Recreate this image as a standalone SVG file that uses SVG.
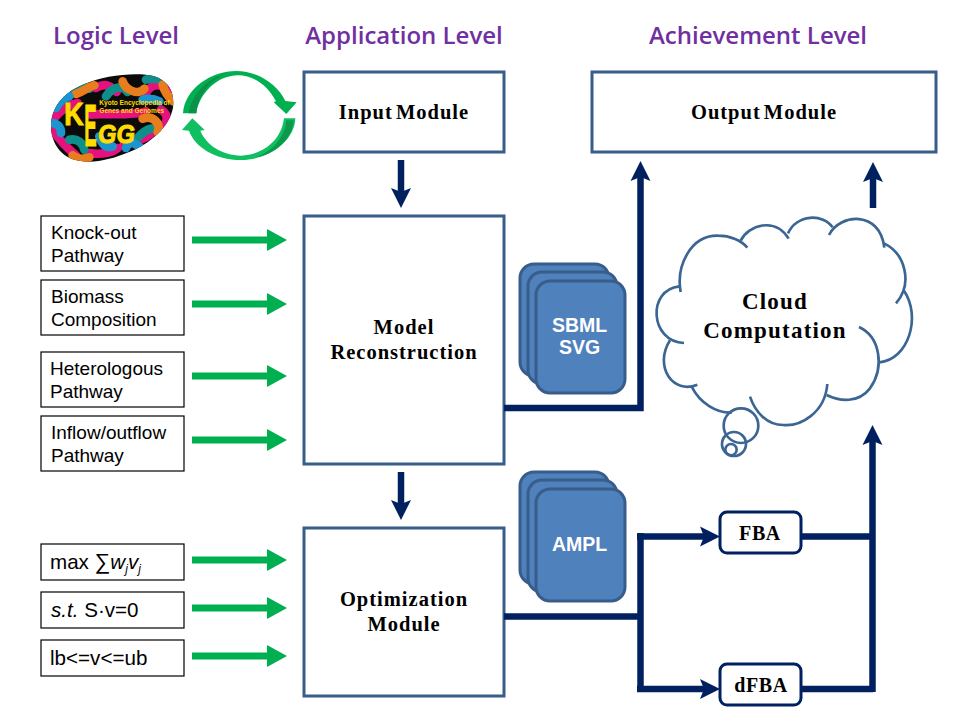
<svg xmlns="http://www.w3.org/2000/svg" width="960" height="720" viewBox="0 0 960 720">
<style>
.title{font:600 24px "Open Sans","Liberation Sans",sans-serif;fill:#7030a0;text-anchor:middle}
.mod{fill:#fff;stroke:#385d8a;stroke-width:3}
.st{font:bold 20.5px "Liberation Serif",serif;fill:#000;text-anchor:middle;letter-spacing:1px;word-spacing:-3px}
.fb{font:bold 20px "Liberation Serif",serif;fill:#000;text-anchor:middle;letter-spacing:.6px}
.cc{font:bold 23px "Liberation Serif",serif;fill:#000;text-anchor:middle;letter-spacing:1.2px}
.input{fill:#fff;stroke:#000;stroke-width:1.2}
.lt{font:19px "Liberation Sans",Arial,sans-serif;fill:#000}
.lm{font:20.6px "Liberation Sans",Arial,sans-serif;fill:#000}
.doc{fill:#4f81bd;stroke:#385d8a;stroke-width:3}
.dt{font:bold 19.5px "Liberation Sans",Arial,sans-serif;fill:#fff;text-anchor:middle}
.g{stroke:#00b050;stroke-width:7;fill:none}
.n{stroke:#002060;stroke-width:6.500;fill:none}
.cl{fill:none;stroke:#3b6593;stroke-width:8;stroke-linecap:butt}
.sub{font-size:12px;font-style:italic}
.egg{fill:none;stroke-width:26;stroke-linecap:round}
.ky{font:bold 19.6px "Liberation Sans",sans-serif;fill:#ffdc00}
.kl{font-family:"Liberation Sans",sans-serif;font-weight:bold;fill:#ffdc00}
</style>
<defs>
<marker id="gh" markerUnits="userSpaceOnUse" markerWidth="20" markerHeight="22" refX="1" refY="11" orient="auto"><path d="M0 0L20 11L0 22Z" fill="#00b050"/></marker>
<marker id="nh" markerUnits="userSpaceOnUse" markerWidth="20" markerHeight="22" refX="4" refY="11" orient="auto"><path d="M0 1L20 11L0 21L4 11Z" fill="#002060"/></marker>
<clipPath id="eggc"><path d="M15 175C15 120 50 75 110 50C170 25 240 15 300 20C355 25 385 60 382 110C378 165 325 220 255 250C190 278 130 290 80 274C40 260 15 220 15 175Z"/></clipPath>
</defs>
<g id="titles">
<text class="title" x="116" y="44">Logic Level</text>
<text class="title" x="404" y="44">Application Level</text>
<text class="title" x="758" y="44">Achievement Level</text>
</g>
<g id="kegg" transform="translate(46 68) scale(.33333)">
<g clip-path="url(#eggc)">
<rect x="0" y="0" width="400" height="300" fill="#0b0b0b"/>
<path class="egg" stroke="#e5127d" d="M25 150C50 120 70 110 95 105M150 60C180 40 200 60 212 72M300 75C320 40 350 50 372 70M232 232C270 222 300 212 322 190M20 190C40 210 55 235 90 262M130 255C170 262 200 252 215 240M345 125C368 140 368 165 345 178M135 140C150 135 270 145 300 130"/>
<path class="egg" stroke="#0f8f8c" d="M60 80C80 60 110 50 130 62M180 85C200 55 230 50 245 72M275 210C300 180 330 172 342 192M70 215C95 210 110 225 115 245M300 35C320 30 340 30 360 40"/>
<path class="egg" stroke="#e87d1e" d="M90 78C110 72 130 55 145 52M230 40C240 70 280 82 295 62M290 152C320 140 345 165 335 192M80 262C100 278 115 272 130 268M350 50C355 70 370 90 382 100"/>
<path class="egg" stroke="#1a95cf" d="M30 120C40 100 55 90 70 85M20 165C40 170 45 180 45 195M160 205C170 235 185 240 200 235M240 240C250 215 265 225 285 240M290 95C310 90 330 95 340 100"/>
</g>
<g stroke="#ffdc00" stroke-width="3">
<text class="kl" font-size="96" transform="translate(55 170) scale(.84 1)">K</text>
<text class="kl" font-size="176" transform="translate(115 235) scale(.32 1)">E</text>
<text class="kl" font-size="78" font-style="italic" transform="translate(156 225) scale(.91 1)">GG</text>
</g>
<text class="ky" x="160" y="112">Kyoto Encyclopedia of</text>
<text class="ky" x="160" y="135">Genes and Genomes</text>
</g>
<g id="cycle" transform="translate(178 65) scale(.33333)">
<path d="M15 145C20 70 100 18 175 18C240 18 300 60 322 108L356 112L325 147L287 112L294 109C270 62 228 31 180 31C115 31 62 90 55 145Z" fill="#00b050"/>
<path d="M32 145C40 90 90 35 150 25C100 40 60 90 55 145Z" fill="#0a9249"/>
<path d="M352 160C350 230 270 285 190 285C110 285 50 245 33 197L12 195L43 160L80 195L67 197C85 240 130 270 190 272C250 270 310 230 318 160Z" fill="#10bf60"/>
<path d="M325 166H347C345 220 290 270 235 277C280 260 320 220 325 166Z" fill="#0a9a4c"/>
</g>
<g id="input-module"><rect class="mod" x="304" y="72" width="200" height="80"/><text class="st" x="404" y="119">Input Module</text></g>
<g id="output-module"><rect class="mod" x="592" y="72" width="344" height="80"/><text class="st" x="764" y="119">Output Module</text></g>
<g id="model-reconstruction"><rect class="mod" x="304" y="216" width="200" height="248"/><text class="st" x="404" y="334">Model</text><text class="st" x="404" y="359">Reconstruction</text></g>
<g id="optimization-module"><rect class="mod" x="304" y="528" width="200" height="168"/><text class="st" x="404" y="606">Optimization</text><text class="st" x="404" y="631">Module</text></g>
<g id="knockout"><rect class="input" x="41" y="216" width="143" height="55"/><text class="lt" x="51" y="239">Knock-out</text><text class="lt" x="51" y="262">Pathway</text></g>
<g id="biomass"><rect class="input" x="41" y="280" width="143" height="55"/><text class="lt" x="51" y="303">Biomass</text><text class="lt" x="51" y="326">Composition</text></g>
<g id="heterologous"><rect class="input" x="41" y="352" width="143" height="55"/><text class="lt" x="50" y="375">Heterologous</text><text class="lt" x="50" y="398">Pathway</text></g>
<g id="inflow"><rect class="input" x="41" y="416" width="143" height="55"/><text class="lt" x="51" y="439">Inflow/outflow</text><text class="lt" x="51" y="462">Pathway</text></g>
<g id="objective"><rect class="input" x="41" y="544" width="143" height="36"/><text class="lm" x="50" y="569">max <tspan font-size="22">∑</tspan><tspan font-style="italic">w</tspan><tspan class="sub" dy="4">j</tspan><tspan font-style="italic" dy="-4">v</tspan><tspan class="sub" dy="4">j</tspan></text></g>
<g id="constraint"><rect class="input" x="41" y="592" width="143" height="36"/><text class="lm" x="51" y="617"><tspan font-style="italic">s.t.</tspan> S·v=0</text></g>
<g id="bounds"><rect class="input" x="41" y="640" width="143" height="36"/><text class="lm" x="50" y="665">lb&lt;=v&lt;=ub</text></g>
<g id="connectors">
<path class="g" marker-end="url(#gh)" d="M192 240H268"/>
<path class="g" marker-end="url(#gh)" d="M192 304H268"/>
<path class="g" marker-end="url(#gh)" d="M192 376H268"/>
<path class="g" marker-end="url(#gh)" d="M192 440H268"/>
<path class="g" marker-end="url(#gh)" d="M192 560H268"/>
<path class="g" marker-end="url(#gh)" d="M192 608H268"/>
<path class="g" marker-end="url(#gh)" d="M192 656H268"/>
<path class="n" marker-end="url(#nh)" d="M401 160V192"/>
<path class="n" marker-end="url(#nh)" d="M401 472V504"/>
<path class="n" marker-end="url(#nh)" d="M504 408H640.500V177"/>
<path class="n" marker-end="url(#nh)" d="M873 208V178"/>
<path class="n" marker-end="url(#nh)" d="M872.500 692V441"/>
<path class="n" d="M504 616.500H640"/>
<path class="n" d="M640.500 533V692"/>
<path class="n" marker-end="url(#nh)" d="M637 536.500H704"/>
<path class="n" marker-end="url(#nh)" d="M637 689H704"/>
<path class="n" d="M801 536.500H873M801 689H873"/>
</g>
<g id="sbml-svg"><rect class="doc" x="520" y="264" width="89" height="112" rx="14"/><rect class="doc" x="528" y="272" width="89" height="112" rx="14"/><rect class="doc" x="536" y="281" width="89" height="112" rx="14"/><text class="dt" x="579.500" y="332">SBML</text><text class="dt" x="579.500" y="354">SVG</text></g>
<g id="ampl"><rect class="doc" x="520" y="472" width="89" height="112" rx="14"/><rect class="doc" x="528" y="480" width="89" height="112" rx="14"/><rect class="doc" x="536" y="489" width="89" height="112" rx="14"/><text class="dt" x="579.500" y="551">AMPL</text></g>
<g id="cloud">
<g transform="translate(650 200) scale(.33333)">
<path class="cl" d="M92 276C78 200 120 105 205 107C240 107 275 122 292 143"/>
<path class="cl" d="M272 122C295 75 375 50 416 116"/>
<path class="cl" d="M414 100C440 42 520 40 548 82"/>
<path class="cl" d="M537 105C570 40 690 30 703 143"/>
<path class="cl" d="M702 130C765 160 790 250 738 310"/>
<path class="cl" d="M762 272C815 350 775 480 688 487"/>
<path class="cl" d="M627 381C690 410 705 500 660 565C625 610 570 605 530 585"/>
<path class="cl" d="M532 552C525 640 450 680 400 675C350 675 315 635 300 590"/>
<path class="cl" d="M125 560C150 610 200 640 245 638"/>
<path class="cl" d="M142 554C70 585 10 500 60 421"/>
<path class="cl" d="M102 429C0 425 -10 270 88 259"/>
<circle class="cl" cx="273" cy="677" r="52"/>
<circle class="cl" cx="252" cy="732" r="36"/>
<circle class="cl" cx="243" cy="749" r="17"/>
</g>
<text class="cc" x="775" y="309">Cloud</text>
<text class="cc" x="775" y="338">Computation</text>
</g>
<g id="fba"><rect x="720" y="512" width="81" height="41" rx="7" fill="#fff" stroke="#002060" stroke-width="3"/><text class="fb" x="760" y="540">FBA</text></g>
<g id="dfba"><rect x="720" y="664" width="81" height="41" rx="7" fill="#fff" stroke="#002060" stroke-width="3"/><text class="fb" x="761" y="692">dFBA</text></g>
</svg>
